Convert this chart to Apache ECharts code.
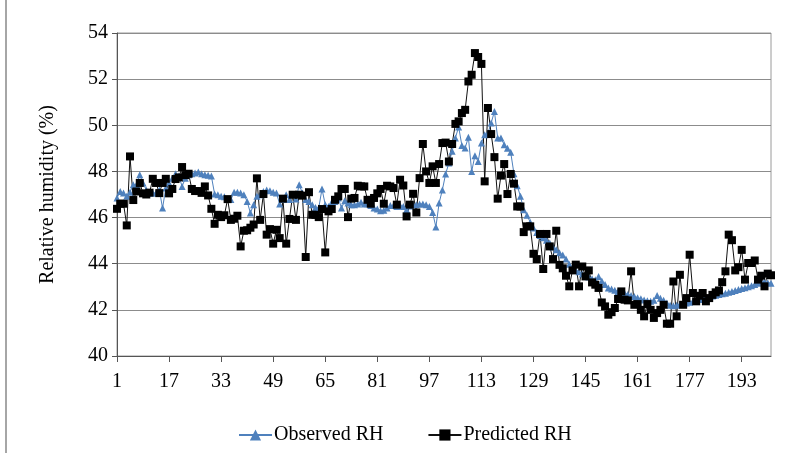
<!DOCTYPE html>
<html><head><meta charset="utf-8">
<script src="https://cdn.jsdelivr.net/npm/echarts@6/dist/echarts.min.js"></script>
<style>html,body{margin:0;padding:0;background:#fff}#c{width:799px;height:453px}</style>
</head><body><div id="c"></div>
<script>
var observedRH = [
46.85,47.13,47.06,46.92,47.1,47.42,47.42,47.86,47.5,47.2,
47.06,47.06,47.06,47.2,46.41,47.28,47.5,47.7,47.9,47.8,
47.35,47.7,47.86,47.9,47.93,47.97,47.9,47.86,47.83,47.8,
47.02,46.99,46.92,46.9,46.78,46.78,47.1,47.1,47.06,46.99,
46.7,46.2,46.56,46.92,46.99,47.13,47.2,47.16,47.1,47.06,
46.59,46.78,46.99,46.78,46.99,46.8,47.42,47.06,46.78,46.7,
46.56,46.44,46.41,47.24,46.56,46.48,46.66,46.7,46.85,46.41,
46.73,46.63,46.56,46.56,46.59,46.66,46.59,46.6,46.52,46.41,
46.37,46.3,46.32,46.41,46.52,46.52,46.48,46.52,46.48,46.34,
46.5,46.56,46.56,46.59,46.59,46.56,46.48,46.22,45.59,46.63,
47.2,47.89,48.36,48.87,49.45,49.93,49.12,49.02,49.48,48.0,
48.68,48.43,49.23,49.59,49.66,50.1,50.6,49.45,49.45,49.16,
49.01,48.83,47.9,47.38,46.92,46.34,46.1,45.8,45.55,45.35,
45.22,45.12,45.02,44.9,44.72,44.6,44.48,44.38,44.2,43.98,
43.82,43.72,43.65,43.55,43.48,43.42,43.35,43.3,43.45,43.25,
43.1,42.95,42.9,42.85,42.8,42.76,42.72,42.67,42.62,42.58,
42.53,42.48,42.43,42.4,42.37,42.42,42.62,42.5,42.42,42.3,
42.2,42.18,42.2,42.24,42.27,42.3,42.33,42.37,42.4,42.45,
42.48,42.52,42.55,42.6,42.63,42.67,42.7,42.72,42.76,42.8,
42.84,42.88,42.93,42.96,43.0,43.05,43.1,43.15,43.2,43.22,
43.18,43.15
];
var predictedRH = [
46.38,46.6,46.6,45.66,48.65,46.76,47.13,47.5,47.05,47.0,
47.08,47.68,47.5,47.06,47.5,47.68,47.05,47.24,47.67,47.74,
48.19,47.84,47.9,47.24,47.15,47.15,47.07,47.35,46.96,46.38,
45.73,46.12,46.02,46.1,46.8,45.9,45.95,46.08,44.75,45.43,
45.45,45.56,45.7,47.7,45.9,47.02,45.26,45.5,44.87,45.47,
45.11,46.82,44.87,45.94,46.99,45.9,46.99,46.95,44.29,47.1,
46.12,46.12,46.02,46.37,44.49,46.27,46.37,46.77,46.92,47.24,
47.24,46.02,46.82,46.85,47.38,47.35,47.35,46.77,46.6,46.85,
47.05,47.24,46.6,47.38,47.35,47.28,46.56,47.64,47.39,46.05,
46.56,47.03,46.22,47.71,49.19,48.0,47.5,48.22,47.5,48.32,
49.23,49.25,48.43,49.19,50.06,50.17,50.53,50.67,51.9,52.19,
53.13,52.96,52.66,47.57,50.75,49.62,48.62,46.82,47.82,48.32,
47.02,47.89,47.47,46.48,46.48,45.37,45.62,45.62,44.43,44.2,
45.29,43.77,45.29,44.75,44.2,45.43,43.95,43.8,43.48,43.02,
43.71,43.96,43.02,43.88,43.45,43.71,43.19,43.09,42.95,42.32,
42.15,41.79,41.9,42.08,42.47,42.8,42.44,42.41,43.67,42.22,
42.25,42.0,41.72,42.25,42.0,41.65,41.86,42.0,42.22,41.4,
41.4,43.23,41.72,43.52,42.22,42.51,44.39,42.73,42.37,42.61,
42.73,42.37,42.51,42.65,42.76,42.84,43.2,43.67,45.26,45.02,
43.71,43.85,44.6,43.31,44.03,44.03,44.14,43.31,43.48,43.02,
43.57,43.5
];
var categories = [];
for (var i = 1; i <= predictedRH.length; i++) categories.push(String(i));
var yTicks = { min: 40, max: 54, step: 2 };
var seriesNames = ['Observed RH', 'Predicted RH'];

var FONT = '"Liberation Serif", "DejaVu Serif", serif';
var chart = echarts.init(document.getElementById('c'), null, {renderer: 'canvas'});
chart.setOption({
  animation: false,
  backgroundColor: '#fff',
  textStyle: {fontFamily: FONT},
  graphic: [{type: 'line', shape: {x1: 6, y1: 0, x2: 6, y2: 453}, style: {stroke: '#888', lineWidth: 1.5}}],
  grid: {left: 117, right: 28, top: 33, bottom: 97, show: true, borderColor: '#9a9a9a', borderWidth: 1, backgroundColor: 'transparent'},
  legend: {
    left: 233, top: 420, itemWidth: 33, itemHeight: 14, itemGap: 44,
    textStyle: {fontFamily: FONT, fontSize: 20, color: '#000', padding: [0, 0, 0, -3]},
    data: seriesNames
  },
  xAxis: {
    type: 'category', data: categories, boundaryGap: false,
    axisLine: {lineStyle: {color: '#555', width: 1}},
    axisTick: {interval: 15, length: 6, lineStyle: {color: '#555'}},
    axisLabel: {interval: 15, fontFamily: FONT, fontSize: 20, color: '#000', margin: 16},
    splitLine: {show: false}
  },
  yAxis: {
    type: 'value', min: yTicks.min, max: yTicks.max, interval: yTicks.step,
    name: 'Relative humidity (%)', nameLocation: 'middle', nameGap: 59,
    nameTextStyle: {fontFamily: FONT, fontSize: 20, color: '#000'},
    axisLine: {show: true, lineStyle: {color: '#555', width: 1}},
    axisTick: {show: true, length: 5, lineStyle: {color: '#555'}},
    axisLabel: {fontFamily: FONT, fontSize: 20, color: '#000', margin: 9},
    splitLine: {lineStyle: {color: '#8c8c8c', width: 1}}
  },
  series: [
    {name: seriesNames[0], type: 'line', data: observedRH, symbol: 'triangle', symbolSize: 7,
     showAllSymbol: true, lineStyle: {color: '#4F81BD', width: 1}, itemStyle: {color: '#4F81BD'}},
    {name: seriesNames[1], type: 'line', data: predictedRH, symbol: 'rect', symbolSize: 8,
     showAllSymbol: true, lineStyle: {color: '#111', width: 1}, itemStyle: {color: '#000'}}
  ]
});
</script></body></html>
